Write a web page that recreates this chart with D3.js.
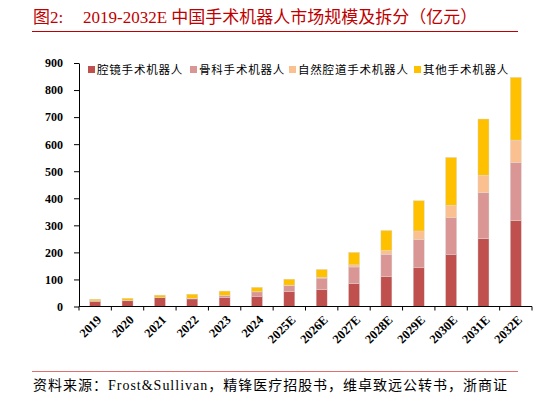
<!DOCTYPE html>
<html><head><meta charset="utf-8">
<script src="https://cdn.jsdelivr.net/npm/d3@7/dist/d3.min.js"></script>
<style>body{margin:0;background:#fff}svg{display:block}</style>
</head><body><svg id="c" width="548" height="401"></svg>
<script>
const categories = ["2019","2020","2021","2022","2023","2024","2025E","2026E","2027E","2028E","2029E","2030E","2031E","2032E"];
const laparoscopic = [19,21,33,28,34,38,55,63,84,111,143,193,251,318];
const orthopedic   = [2,1.5,1,2,6,16,22,42,62,82,105,135,170,214];
const natural      = [0,0,0,0.5,1,1,2,3,8,14,31,46,64,83];
const other        = [6,8,8,15,16,16,22,29,46,74,112,177,208,232];
const seriesNames = ["腔镜手术机器人","骨科手术机器人","自然腔道手术机器人","其他手术机器人"];
const colors = ["#C0504D","#D99694","#FAC090","#FFC000"];
const yTicks = [0,100,200,300,400,500,600,700,800,900];

const svg = d3.select("#c");
const serif = "'Liberation Serif','Times New Roman',serif";
const cjk = "'Liberation Serif','Noto Sans CJK SC',serif";

// title
const t = svg.append("text").attr("y",23).attr("fill","#C00000")
  .style("font-family",cjk).style("font-size","17px");
t.append("tspan").attr("x",33).text("图2:");
t.append("tspan").attr("x",83).text("2019-2032E 中国手术机器人市场规模及拆分（亿元）");
svg.append("line").attr("x1",32).attr("x2",518).attr("y1",31.5).attr("y2",31.5)
  .attr("stroke","#C00000").attr("stroke-width",1.2);

// footer
svg.append("line").attr("x1",32).attr("x2",518).attr("y1",371.5).attr("y2",371.5)
  .attr("stroke","#E07070").attr("stroke-width",1.2);
svg.append("text").attr("x",33).attr("y",390).attr("fill","#000")
  .style("font-family",cjk).style("font-size","14px")
  .attr("textLength",474).attr("lengthAdjust","spacing")
  .text("资料来源：Frost&Sullivan，精锋医疗招股书，维卓致远公转书，浙商证");

const x0 = 79, x1 = 532, yTop = 63, yBot = 306.5;
const x = d3.scaleBand().domain(categories).range([x0,x1]).paddingInner(0.66).paddingOuter(0.33);
const y = d3.scaleLinear().domain([0,900]).range([yBot,yTop]);

const rows = categories.map((c,i)=>({cat:c, s0:laparoscopic[i], s1:orthopedic[i], s2:natural[i], s3:other[i]}));
const stacked = d3.stack().keys(["s0","s1","s2","s3"])(rows);

svg.append("g").selectAll("g").data(stacked).join("g")
  .attr("fill",(d,i)=>colors[i])
  .selectAll("rect").data(d=>d).join("rect")
  .attr("x",d=>x(d.data.cat)).attr("width",x.bandwidth())
  .attr("y",d=>y(d[1])).attr("height",d=>Math.max(0,y(d[0])-y(d[1])))
  .attr("stroke","#d9d9d9").attr("stroke-width",0.4);

// y axis
const yAxis = d3.axisLeft(y).tickValues(yTicks).tickSize(5).tickSizeOuter(0);
const gy = svg.append("g").attr("transform",`translate(${x0},0)`).call(yAxis);
gy.select(".domain").attr("stroke","#000");
gy.selectAll(".tick line").attr("stroke","#000");
gy.selectAll("text").style("font-family",serif).style("font-size","12px").style("font-weight","bold").attr("x",-16).attr("fill","#000");

// x axis
const gx = svg.append("g").attr("transform",`translate(0,${yBot})`);
gx.append("line").attr("x1",x0).attr("x2",x1).attr("stroke","#000").attr("stroke-width",1.2);
const step = x.step();
const bounds = d3.range(categories.length+1).map(i=>x(categories[0]) - x.paddingOuter()*step + i*step);
gx.selectAll("line.t").data(bounds).join("line").attr("class","t")
  .attr("x1",d=>d).attr("x2",d=>d).attr("y1",0).attr("y2",4).attr("stroke","#000");
gx.selectAll("text").data(categories).join("text")
  .attr("transform",d=>`translate(${x(d)+x.bandwidth()/2+4},${11}) rotate(-45)`)
  .attr("text-anchor","end").attr("dy","0.35em")
  .style("font-family",serif).style("font-size","12.5px").style("font-weight","bold")
  .text(d=>d);

// legend
const legX = [88,190,289,414];
const lg = svg.append("g");
seriesNames.forEach((n,i)=>{
  lg.append("rect").attr("x",legX[i]).attr("y",66).attr("width",7).attr("height",7).attr("fill",colors[i]);
  lg.append("text").attr("x",legX[i]+9).attr("y",74).style("font-family",cjk)
    .style("font-size","11.5px").style("letter-spacing","0.8px").attr("fill","#000").text(n);
});
</script></body></html>
